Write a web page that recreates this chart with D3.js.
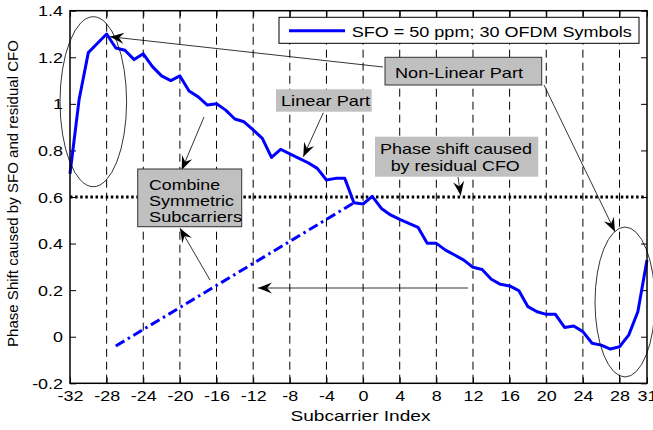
<!DOCTYPE html>
<html><head><meta charset="utf-8">
<script src="https://cdn.jsdelivr.net/npm/d3@7"></script>
<style>
html,body{margin:0;padding:0;background:#fff;}
svg text{font-family:"Liberation Sans",Arial,Helvetica,sans-serif;fill:#000;}
</style></head>
<body><svg id="c" width="653" height="430"></svg>
<script>
// ---------- data ----------
const subcarriers = [-32,-31,-30,-29,-28,-27,-26,-25,-24,-23,-22,-21,-20,-19,-18,-17,-16,-15,-14,-13,-12,-11,-10,-9,-8,-7,-6,-5,-4,-3,-2,-1,0,1,2,3,4,5,6,7,8,9,10,11,12,13,14,15,16,17,18,19,20,21,22,23,24,25,26,27,28,29,30,31];
const phaseShift = [0.70,1.02,1.22,1.26,1.30,1.24,1.23,1.19,1.215,1.16,1.12,1.10,1.12,1.055,1.03,0.995,1.00,0.973,0.935,0.923,0.888,0.852,0.77,0.805,0.785,0.766,0.747,0.723,0.673,0.68,0.68,0.575,0.57,0.603,0.551,0.523,0.504,0.487,0.47,0.401,0.401,0.372,0.351,0.329,0.298,0.289,0.247,0.225,0.218,0.198,0.129,0.107,0.096,0.096,0.04,0.046,0.022,-0.028,-0.036,-0.053,-0.043,0.007,0.107,0.329];
const combinedX = [-27,-1];
const combinedY = [-0.04,0.575];
const residualCFO = 0.6;
const xTicks = [-32,-28,-24,-20,-16,-12,-8,-4,0,4,8,12,16,20,24,28,31];
const xTickLabels = ["-32","-28","-24","-20","-16","-12","-8","-4","0","4","8","12","16","20","24","28","31"];
const yTicks = [-0.2,0,0.2,0.4,0.6,0.8,1,1.2,1.4];
const yTickLabels = ["-0.2","0","0.2","0.4","0.6","0.8","1","1.2","1.4"];
const legendLabel = "SFO = 50 ppm; 30 OFDM Symbols";

// ---------- layout ----------
const svg = d3.select("#c");
const L=70, R=647, T=10.7, B=383.3;
const x = d3.scaleLinear().domain([-32,31]).range([L,R]);
const y = d3.scaleLinear().domain([-0.2,1.4]).range([B,T]);
const STRETCH = 1.28;
function stretch(sel, f){ sel.each(function(){ const w=this.getComputedTextLength(); d3.select(this).attr("textLength", w*f).attr("lengthAdjust","spacingAndGlyphs"); }); }
function fit(sel, w){ sel.attr("textLength", w).attr("lengthAdjust","spacingAndGlyphs"); }

// grid (vertical dashed)
svg.append("g").selectAll("line").data(xTicks.filter(d=>d>-32 && d<31)).join("line")
  .attr("x1",d=>x(d)).attr("x2",d=>x(d)).attr("y1",T).attr("y2",B)
  .attr("stroke","#000").attr("stroke-width",1).attr("stroke-dasharray","8,5");

// axes
const gB = svg.append("g").attr("transform",`translate(0,${B})`)
  .call(d3.axisBottom(x).tickValues(xTicks).tickSizeInner(-6).tickSizeOuter(0).tickPadding(7).tickFormat((d,i)=>xTickLabels[i]));
const gT = svg.append("g").attr("transform",`translate(0,${T})`)
  .call(d3.axisTop(x).tickValues(xTicks).tickSizeInner(-6).tickSizeOuter(0).tickFormat(""));
const gL = svg.append("g").attr("transform",`translate(${L},0)`)
  .call(d3.axisLeft(y).tickValues(yTicks).tickSizeInner(-6).tickSizeOuter(0).tickPadding(7).tickFormat((d,i)=>yTickLabels[i]));
const gR = svg.append("g").attr("transform",`translate(${R},0)`)
  .call(d3.axisRight(y).tickValues(yTicks).tickSizeInner(-6).tickSizeOuter(0).tickFormat(""));
[gB,gT,gL,gR].forEach(g=>{ g.select(".domain").remove(); g.selectAll(".tick line").attr("stroke","#000").attr("stroke-width",1); });
gB.selectAll("text").attr("font-size",14).attr("font-family",null).attr("dy",null).attr("y",17.5);
gL.selectAll("text").attr("font-size",14).attr("font-family",null).attr("x",-7).attr("dy","0.36em");
stretch(gB.selectAll("text"), STRETCH);
stretch(gL.selectAll("text"), STRETCH);

// residual CFO dotted line
svg.append("line").attr("x1",x(-32)).attr("x2",x(31)).attr("y1",y(residualCFO)).attr("y2",y(residualCFO))
  .attr("stroke","#000").attr("stroke-width",3).attr("stroke-dasharray","2.5,2.6");

// combined dash-dot
svg.append("path").datum(combinedX.map((d,i)=>[d,combinedY[i]]))
  .attr("d", d3.line().x(d=>x(d[0])).y(d=>y(d[1])))
  .attr("fill","none").attr("stroke","#0000ff").attr("stroke-width",3).attr("stroke-dasharray","10,4,2.5,4");

// main line
svg.append("path").datum(subcarriers.map((d,i)=>[d,phaseShift[i]]))
  .attr("d", d3.line().x(d=>x(d[0])).y(d=>y(d[1])))
  .attr("fill","none").attr("stroke","#0000ff").attr("stroke-width",3).attr("stroke-linejoin","round");

// box
svg.append("rect").attr("x",L).attr("y",T).attr("width",R-L).attr("height",B-T)
  .attr("fill","none").attr("stroke","#000").attr("stroke-width",1.5);

// axis titles
svg.append("text").attr("x",(L+R)/2+2).attr("y",421).attr("text-anchor","middle").attr("font-size",15)
  .text("Subcarrier Index").call(fit,140);
svg.append("text").attr("transform","translate(18,193.5) rotate(-90)").attr("text-anchor","middle").attr("font-size",14)
  .text("Phase Shift caused by SFO and residual CFO").call(fit,307);

// ellipses
const ann = svg.append("g");
ann.append("ellipse").attr("cx",93.3).attr("cy",101.7).attr("rx",33.3).attr("ry",85).attr("fill","none").attr("stroke","#000").attr("stroke-width",0.8);
ann.append("ellipse").attr("cx",625).attr("cy",302).attr("rx",30).attr("ry",75).attr("fill","none").attr("stroke","#000").attr("stroke-width",0.8);

// arrows
function arrow(x1,y1,x2,y2){
  ann.append("line").attr("x1",x1).attr("y1",y1).attr("x2",x2).attr("y2",y2).attr("stroke","#000").attr("stroke-width",0.8);
  const a=Math.atan2(y2-y1,x2-x1), len=14, hw=5.5, nb=9;
  const ux=Math.cos(a), uy=Math.sin(a), px=-uy, py=ux;
  const bx=x2-ux*len, by=y2-uy*len, nx=x2-ux*nb, ny=y2-uy*nb;
  ann.append("path").attr("d",`M${x2},${y2}L${bx+px*hw},${by+py*hw}L${nx},${ny}L${bx-px*hw},${by-py*hw}Z`).attr("fill","#000");
}
arrow(383,67,110,36.7);
arrow(544,85,615,231.7);
arrow(323.3,112.7,303.3,156.7);
arrow(458,177,460.7,195.5);
arrow(204,117,181.7,170);
arrow(210,280,180,228.3);
arrow(468,288,258,288);

// text boxes
function box(x0,y0,w,h,border){
  ann.append("rect").attr("x",x0).attr("y",y0).attr("width",w).attr("height",h).attr("fill","#c0c0c0")
    .attr("stroke",border?"#333":"none").attr("stroke-width",border?1:0);
}
function label(t,x0,yb,w,anchor){
  ann.append("text").attr("x",x0).attr("y",yb).attr("font-size",15).attr("text-anchor",anchor||"start").text(t).call(fit,w);
}
box(385,57.3,156.7,27.7,true);
label("Non-Linear Part",395,77.5,128);
box(276,89.3,95.7,22.4,false);
label("Linear Part",281,106,89);
box(375,136.7,163.3,40,false);
label("Phase shift caused",380,154,152);
label("by residual CFO",390.7,170.5,129);
box(137.7,169,104,57.7,true);
label("Combine",149,189.5,71);
label("Symmetric",149,205.5,85);
label("Subcarriers",149,222,93);

// legend
const lg = svg.append("g");
lg.append("rect").attr("x",279).attr("y",17.3).attr("width",360).attr("height",26).attr("fill","#fff").attr("stroke","#000").attr("stroke-width",1);
lg.append("line").attr("x1",289).attr("x2",345).attr("y1",30.7).attr("y2",30.7).attr("stroke","#0000ff").attr("stroke-width",3);
lg.append("text").attr("x",351.7).attr("y",36.5).attr("font-size",15).text(legendLabel).call(fit,280);
</script></body></html>
